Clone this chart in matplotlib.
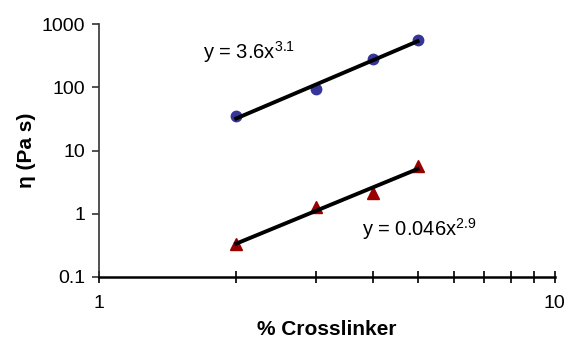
import numpy as np
import matplotlib.pyplot as plt
from matplotlib.ticker import LogLocator, NullFormatter, FixedLocator, FixedFormatter

plt.rcParams['font.family'] = ['Liberation Sans', 'DejaVu Sans']
plt.rcParams['mathtext.fontset'] = 'custom'
plt.rcParams['mathtext.rm'] = 'Liberation Sans'
plt.rcParams['mathtext.it'] = 'Liberation Sans'

crosslinker = [2, 3, 4, 5]
eta_high = [35, 94, 280, 560]
eta_low = [0.33, 1.28, 2.1, 5.7]

fig = plt.figure(figsize=(5.69, 3.39), dpi=100)
ax = fig.add_axes([0.174, 0.183, 0.801, 0.746])


def trend(x, y):
    # power-law fit, drawn like a spreadsheet trendline
    b, a = np.polyfit(np.log10(x), np.log10(y), 1)
    xs = np.array([min(x), max(x)])
    return xs, 10 ** a * xs ** b


ax.plot(crosslinker, eta_high, 'o', color='#35359a', markersize=7.5, zorder=2)
ax.plot(crosslinker, eta_low, '^', color='#990000', markersize=8.5, zorder=2)
for ys in (eta_high, eta_low):
    xs, yt = trend(crosslinker, ys)
    ax.plot(xs, yt, color='black', linewidth=2.8, zorder=3)

ax.set_xscale('log')
ax.set_yscale('log')
ax.set_xlim(1, 10)
ax.set_ylim(0.1, 1000)

ax.yaxis.set_major_locator(FixedLocator([0.1, 1, 10, 100, 1000]))
ax.yaxis.set_major_formatter(FixedFormatter(['0.1', '1', '10', '100', '1000']))
ax.yaxis.set_minor_locator(FixedLocator([]))
ax.xaxis.set_major_locator(FixedLocator([1, 10]))
ax.xaxis.set_major_formatter(FixedFormatter(['1', '10']))
ax.xaxis.set_minor_locator(LogLocator(base=10, subs=np.arange(2, 10)))
ax.xaxis.set_minor_formatter(NullFormatter())

for s in ('top', 'right'):
    ax.spines[s].set_visible(False)
ax.spines['left'].set_color('#333333')
ax.spines['left'].set_linewidth(1.2)
ax.spines['bottom'].set_color('black')
ax.spines['bottom'].set_linewidth(1.8)

ax.tick_params(axis='y', direction='out', length=5, width=1.2, color='#333333',
               labelsize=14, pad=5)
ax.tick_params(axis='x', which='both', direction='inout', length=8, width=1.2,
               labelsize=14, pad=9)

ax.set_xlabel('% Crosslinker', fontsize=15, fontweight='bold', va='center')
ax.xaxis.set_label_coords(0.5, -0.209)
ax.set_ylabel('η (Pa s)', fontsize=15, fontweight='bold', va='center')
ax.yaxis.set_label_coords(-0.16, 0.5)

ax.text(1.69, 360, 'y = 3.6x$^{3.1}$', fontsize=14.5, va='center')
ax.text(3.77, 0.57, 'y = 0.046x$^{2.9}$', fontsize=14.5, va='center')

fig.savefig('out.png', dpi=100)
